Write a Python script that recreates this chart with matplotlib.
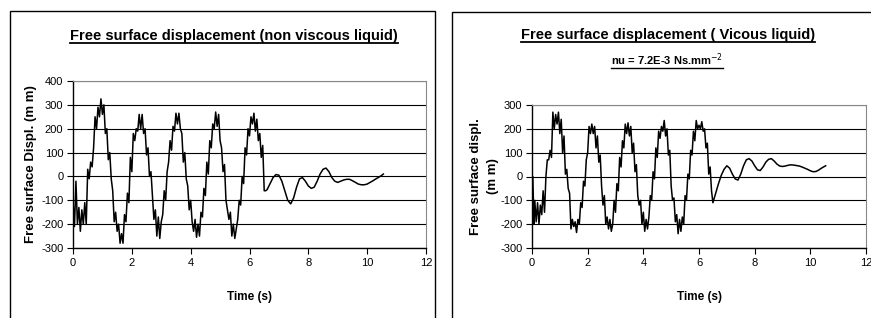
import matplotlib
matplotlib.use("Agg")
import matplotlib.pyplot as plt
from matplotlib.patches import Rectangle
from matplotlib.lines import Line2D

plt.rcParams["axes.unicode_minus"] = False

# ---------------- data ----------------
t_left = [0.00, 0.05, 0.10, 0.15, 0.20, 0.25, 0.30, 0.35, 0.40, 0.45, 0.50, 0.55, 0.60, 0.65, 0.70,
          0.75, 0.80, 0.85, 0.90, 0.95, 1.00, 1.05, 1.10, 1.15, 1.20, 1.25, 1.30, 1.35, 1.40, 1.45,
          1.50, 1.55, 1.60, 1.65, 1.70, 1.75, 1.80, 1.85, 1.90, 1.95, 2.00, 2.05, 2.10, 2.15, 2.20,
          2.25, 2.30, 2.35, 2.40, 2.45, 2.50, 2.55, 2.60, 2.65, 2.70, 2.75, 2.80, 2.85, 2.90, 2.95,
          3.00, 3.05, 3.10, 3.15, 3.20, 3.25, 3.30, 3.35, 3.40, 3.45, 3.50, 3.55, 3.60, 3.65, 3.70,
          3.75, 3.80, 3.85, 3.90, 3.95, 4.00, 4.05, 4.10, 4.15, 4.20, 4.25, 4.30, 4.35, 4.40, 4.45,
          4.50, 4.55, 4.60, 4.65, 4.70, 4.75, 4.80, 4.85, 4.90, 4.95, 5.00, 5.05, 5.10, 5.15, 5.20,
          5.25, 5.30, 5.35, 5.40, 5.45, 5.50, 5.55, 5.60, 5.65, 5.70, 5.75, 5.80, 5.85, 5.90, 5.95,
          6.00, 6.05, 6.10, 6.15, 6.20, 6.25, 6.30, 6.35, 6.40, 6.45, 6.50, 6.55,
          6.60, 6.70, 6.80, 6.90, 7.00, 7.10, 7.20, 7.30, 7.40, 7.50, 7.60, 7.70, 7.80, 7.90, 8.00,
          8.10, 8.20, 8.30, 8.40, 8.50, 8.60, 8.70, 8.80, 8.90, 9.00, 9.10, 9.20, 9.30, 9.40, 9.50,
          9.60, 9.70, 9.80, 9.90, 10.00, 10.10, 10.20, 10.30, 10.40, 10.50, 10.55]
y_left = [-100, -210, -20, -200, -130, -230, -140, -200, -110, -200, 30, -10, 60, 40, 120,
          250, 200, 290, 250, 325, 260, 300, 180, 200, 70, 100, -10, -60, -190, -150,
          -230, -200, -280, -240, -280, -160, -190, -70, -110, 80, 20, 180, 150, 200, 190,
          260, 200, 260, 180, 200, 90, 120, 0, 20, -80, -180, -140, -250, -170, -260,
          -190, -160, -60, -100, 20, 60, 150, 110, 210, 190, 265, 220, 265, 200, 180,
          60, 100, -10, -40, -140, -100, -190, -230, -180, -255, -200, -250, -150, -170, -50,
          -80, 60, 10, 150, 120, 220, 200, 270, 210, 260, 150, 120, 20, 50, -100,
          -140, -180, -150, -250, -200, -260, -220, -180, -100, -120, 0, -30, 120, 90, 200,
          170, 250, 220, 265, 190, 240, 150, 180, 80, 130, -60, -60,
          -55, -30, -5, 8, 5, -20, -60, -100, -115, -90, -45, -10, -5, -20, -40,
          -50, -45, -20, 10, 30, 35, 20, -5, -20, -25, -20, -15, -12, -12, -18,
          -25, -32, -35, -35, -32, -25, -18, -10, -3, 5, 10]

t_right = [0.00, 0.03, 0.07, 0.10, 0.15, 0.20, 0.25, 0.30, 0.35, 0.40, 0.45, 0.50, 0.55, 0.60, 0.65,
           0.70, 0.75, 0.80, 0.85, 0.90, 0.95, 1.00, 1.05, 1.10, 1.15, 1.20, 1.25, 1.30, 1.35, 1.40,
           1.45, 1.50, 1.55, 1.60, 1.65, 1.70, 1.75, 1.80, 1.85, 1.90, 1.95, 2.00, 2.05, 2.10, 2.15,
           2.20, 2.25, 2.30, 2.35, 2.40, 2.45, 2.50, 2.55, 2.60, 2.65, 2.70, 2.75, 2.80, 2.85, 2.90,
           2.95, 3.00, 3.05, 3.10, 3.15, 3.20, 3.25, 3.30, 3.35, 3.40, 3.45, 3.50, 3.55, 3.60, 3.65,
           3.70, 3.75, 3.80, 3.85, 3.90, 3.95, 4.00, 4.05, 4.10, 4.15, 4.20, 4.25, 4.30, 4.35, 4.40,
           4.45, 4.50, 4.55, 4.60, 4.65, 4.70, 4.75, 4.80, 4.85, 4.90, 4.95, 5.00, 5.05, 5.10, 5.15,
           5.20, 5.25, 5.30, 5.35, 5.40, 5.45, 5.50, 5.55, 5.60, 5.65, 5.70, 5.75, 5.80, 5.85, 5.90,
           5.95, 6.00, 6.05, 6.10, 6.15, 6.20, 6.25, 6.30, 6.35, 6.40, 6.45, 6.50, 6.55,
           6.60, 6.70, 6.80, 6.90, 7.00, 7.10, 7.20, 7.30, 7.40, 7.50, 7.60, 7.70, 7.80, 7.90, 8.00,
           8.10, 8.20, 8.30, 8.40, 8.50, 8.60, 8.70, 8.80, 8.90, 9.00, 9.10, 9.20, 9.30, 9.40, 9.50,
           9.60, 9.70, 9.80, 9.90, 10.00, 10.10, 10.20, 10.30, 10.40, 10.50, 10.55]
y_right = [-200, 0, -200, -100, -190, -110, -200, -120, -160, -60, -150, 0, 70, 70, 110,
           80, 270, 200, 260, 220, 270, 180, 240, 100, 170, 10, 30, -50, -70, -220,
           -180, -210, -190, -235, -180, -200, -110, -130, -20, -40, 70, 100, 210, 180, 220,
           180, 210, 120, 170, 60, 90, -40, -120, -80, -200, -170, -220, -180, -230, -200,
           -100, -150, -30, -60, 80, 40, 150, 120, 220, 180, 225, 170, 210, 100, 140,
           20, 50, -80, -120, -100, -200, -150, -230, -180, -220, -170, -80, -100, 20, -10,
           120, 80, 190, 160, 210, 190, 235, 170, 200, 90, 110, -40, -100, -90, -190,
           -160, -240, -180, -230, -170, -200, -80, -100, 10, -10, 110, 90, 190, 150, 235,
           200, 215, 200, 230, 190, 200, 120, 140, 10, 40, -60, -110, -90,
           -70, -30, 5, 30, 45, 35, 10, -10, -15, 10, 45, 70, 75, 65, 45,
           28, 25, 40, 60, 72, 75, 65, 52, 44, 42, 44, 47, 49, 48, 46,
           44, 40, 35, 30, 24, 20, 21, 27, 35, 42, 45]

x_ticks = [0, 2, 4, 6, 8, 10, 12]
y_ticks_left = [-300, -200, -100, 0, 100, 200, 300, 400]
y_ticks_right = [-300, -200, -100, 0, 100, 200, 300]

title_left = "Free surface displacement (non viscous liquid)"
title_right = "Free surface displacement ( Vicous liquid)"
subtitle_right = r"nu = 7.2E-3 Ns.mm$^{-2}$"
xlabel = "Time (s)"
ylabel_left = "Free surface Displ. (m m)"
ylabel_right = "Free surface displ.\n(m m)"

# ---------------- figure ----------------
W, H = 871, 318
fig = plt.figure(figsize=(W / 100, H / 100), dpi=100)
fig.patch.set_facecolor("white")

NARROW = ["Liberation Sans Narrow", "Liberation Sans", "DejaVu Sans"]
SANS = ["Liberation Sans", "DejaVu Sans"]

def fx(px):
    return px / W

def fy(py):
    return 1 - py / H

# panel frames
fig.add_artist(Rectangle((fx(10), fy(330)), fx(435 - 10), (330 - 11) / H,
                         transform=fig.transFigure, fill=False, edgecolor="black", lw=1.0))
fig.add_artist(Rectangle((fx(452), fy(330)), fx(900 - 452), (330 - 12) / H,
                         transform=fig.transFigure, fill=False, edgecolor="black", lw=1.0))

def make_axes(rect, t, y, yticks, ylim):
    ax = fig.add_axes(rect)
    ax.plot(t, y, color="black", lw=1.1)
    ax.set_xlim(0, 12)
    ax.set_ylim(*ylim)
    ax.set_xticks(x_ticks)
    ax.set_yticks(yticks)
    ax.yaxis.grid(True, color="black", lw=0.8)
    ax.set_axisbelow(True)
    for s in ["top", "right"]:
        ax.spines[s].set_color("#888888")
        ax.spines[s].set_linewidth(0.8)
    for s in ["left", "bottom"]:
        ax.spines[s].set_color("black")
        ax.spines[s].set_linewidth(1.0)
    ax.tick_params(direction="out", length=4, width=0.8, labelsize=8, pad=3)
    for lab in ax.get_xticklabels() + ax.get_yticklabels():
        lab.set_family(SANS)
    ax.set_xlabel(xlabel, fontsize=8.5, fontweight="bold", family=NARROW, labelpad=17)
    return ax

axL = make_axes([fx(73), fy(248), fx(426 - 73), (248 - 81) / H], t_left, y_left,
                y_ticks_left, (-300, 400))
axL.set_ylabel(ylabel_left, fontsize=9.5, fontweight="bold", family=SANS, labelpad=3)

axR = make_axes([fx(532), fy(248), fx(866 - 532), (248 - 105) / H], t_right, y_right,
                y_ticks_right, (-300, 300))
axR.set_ylabel(ylabel_right, fontsize=9.5, fontweight="bold", family=SANS, labelpad=1,
               linespacing=1.5)

tl = fig.text(fx(234), fy(36), title_left, ha="center", va="center", fontsize=10.5,
              fontweight="bold", family=NARROW)
tr = fig.text(fx(668), fy(35), title_right, ha="center", va="center", fontsize=10.5,
              fontweight="bold", family=NARROW)
ts = fig.text(fx(667), fy(60), subtitle_right, ha="center", va="center", fontsize=8,
              fontweight="bold", family=NARROW)

fig.canvas.draw()
renderer = fig.canvas.get_renderer()
for txt, lw in [(tl, 1.3), (tr, 1.3), (ts, 1.0)]:
    bb = txt.get_window_extent(renderer)
    yline = bb.y0 + 0.5
    fig.add_artist(Line2D([bb.x0 / W, bb.x1 / W], [yline / H, yline / H],
                          transform=fig.transFigure, color="black", lw=lw))

fig.savefig("out.png", dpi=100)
